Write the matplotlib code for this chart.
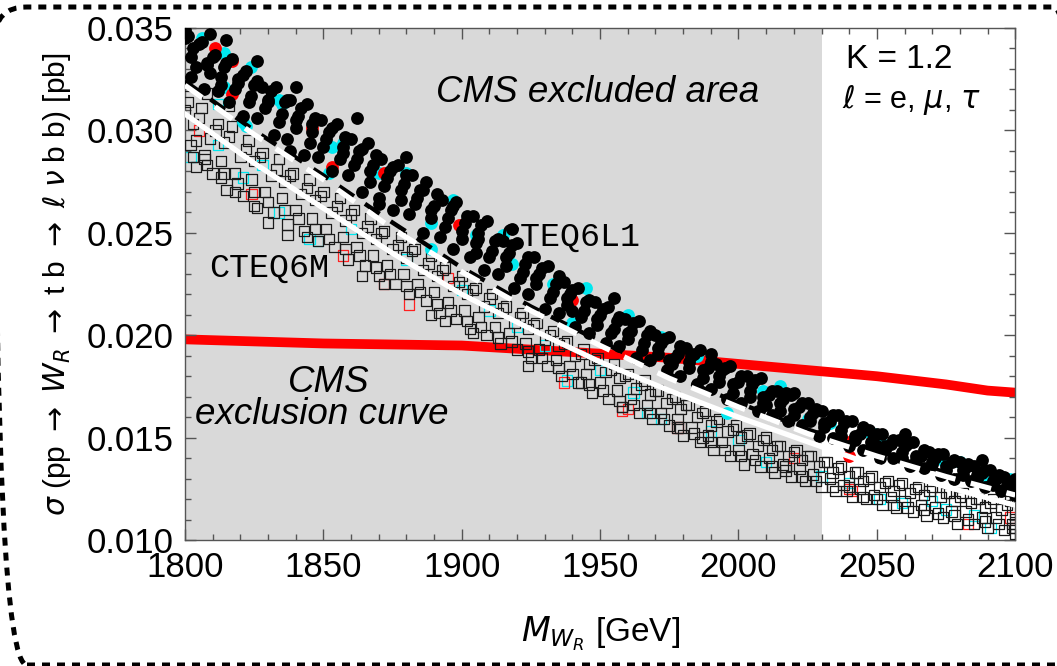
import matplotlib.pyplot as plt
import matplotlib.patches as patches
from matplotlib.ticker import MultipleLocator, FormatStrFormatter

plt.rcParams['font.family'] = ['Liberation Sans', 'DejaVu Sans']
plt.rcParams['mathtext.fontset'] = 'dejavusans'

# CMS exclusion curve (red)
cms_mass = [1800, 1825, 1850, 1875, 1900, 1925, 1950, 1975, 2000, 2025, 2050, 2075, 2090, 2100]
cms_xsec = [0.0198, 0.0197, 0.0196, 0.01955, 0.0195, 0.0193, 0.0191, 0.0189, 0.0186, 0.0183,
            0.0180, 0.0176, 0.0173, 0.0172]

# smooth theory curves
curve_mass = [1800, 1825, 1850, 1875, 1900, 1925, 1950, 1975, 2000, 2025, 2050, 2075, 2100]
solid_white = [0.0308, 0.0284, 0.0262, 0.0240, 0.0220, 0.0203, 0.0187, 0.0173, 0.0160, 0.0148,
               0.0136, 0.0126, 0.0117]
dash_white = [0.0322, 0.0298, 0.0276, 0.0252, 0.0231, 0.0212, 0.0195, 0.0179, 0.0165, 0.0152,
              0.0141, 0.0131, 0.0122]
dash_black = [0.0324, 0.0300, 0.0278, 0.0255, 0.0233, 0.0214, 0.0197, 0.0181, 0.0167, 0.0154,
              0.0143, 0.0133, 0.0124]

# CTEQ6L1 scan points (filled circles)
l1_mass = [
    1801, 1806, 1811, 1817, 1822, 1828, 1833, 1838, 1844, 1849, 1855, 1860, 1866, 1871, 1877, 1882,
    1887, 1893, 1898, 1904, 1909, 1915, 1920, 1926, 1931, 1937, 1942, 1948, 1953, 1959, 1964, 1970,
    1975, 1981, 1986, 1992, 1997, 2003, 2008, 2014, 2019, 2025, 2030, 2036, 2041, 2047, 2052, 2058,
    2063, 2069, 2074, 2080, 2085, 2091, 2096,
    1803, 1808, 1814, 1819, 1825, 1830, 1836, 1841, 1846, 1852, 1857, 1863, 1868, 1874, 1879, 1885,
    1890, 1896, 1901, 1906, 1912, 1917, 1923, 1928, 1934, 1939, 1945, 1950, 1956, 1961, 1967, 1972,
    1978, 1983, 1989, 1994, 2000, 2005, 2011, 2016, 2022, 2027, 2033, 2038, 2044, 2049, 2055, 2060,
    2066, 2071, 2077, 2082, 2088, 2093, 2099,
    1804, 1809, 1813, 1818, 1823, 1829, 1834, 1840, 1845, 1850, 1856, 1861, 1867, 1872, 1878, 1883,
    1889, 1894, 1900, 1905, 1910, 1916, 1921, 1927, 1932, 1938, 1943, 1949, 1954, 1960, 1965, 1971,
    1976, 1982, 1987, 1993, 1998, 2004, 2009, 2015, 2020, 2026, 2031, 2037, 2042, 2048, 2053, 2059,
    2064, 2070, 2075, 2081, 2086, 2092, 2098,
    1802, 1807, 1812, 1816, 1821, 1826, 1832, 1837, 1843, 1848, 1853, 1859, 1864, 1870, 1875, 1881,
    1886, 1892, 1897, 1903, 1908, 1913, 1919, 1924, 1930, 1935, 1941, 1946, 1952, 1957, 1963, 1968,
    1974, 1979, 1985, 1990, 1996, 2001, 2007, 2012, 2018, 2023, 2029, 2034, 2040, 2045, 2051, 2056,
    2062, 2067, 2073, 2078, 2084, 2089, 2095, 2100,
    1800, 1805, 1810, 1815, 1821, 1826, 1831, 1837, 1842, 1847, 1853, 1858, 1864, 1869, 1875, 1880,
    1886, 1891, 1897, 1902, 1907, 1913, 1918, 1924, 1929, 1935, 1940, 1946, 1951, 1957, 1962, 1968,
    1973, 1979, 1984, 1990, 1995, 2001, 2006, 2012, 2017, 2023, 2028, 2034, 2039, 2045, 2050, 2056,
    2061, 2067, 2072, 2078, 2083, 2089, 2094, 2100,
    1802, 1808, 1813, 1819, 1824, 1830, 1835, 1840, 1846, 1851, 1857, 1862, 1867, 1873, 1878, 1884,
    1889, 1895, 1900, 1906, 1911, 1916, 1922, 1927, 1933, 1938, 1944, 1949, 1955, 1960, 1966, 1971,
    1977, 1982, 1987, 1993, 1998, 2004, 2009, 2015, 2020, 2026, 2031, 2037, 2042, 2048, 2053, 2059,
    2064, 2070, 2075, 2081, 2086, 2092, 2097,
    1800, 1809, 1815, 1826, 1840, 1862, 1880, 1918, 1955, 1990, 2020, 2060, 2088, 1838, 1870, 1905,
    1940, 1975, 2010, 2050,
]
l1_xsec = [
    .0346, .0343, .0337, .0335, .0329, .0321, .0321, .0315, .0313, .0305, .0303, .0296, .0294, .0286,
    .0283, .0278, .0275, .0266, .0265, .0258, .0256, .0246, .0245, .0238, .0234, .0226, .0223, .0216,
    .0214, .0208, .0207, .0200, .0199, .0194, .0193, .0186, .0185, .0180, .0179, .0173, .0171, .0167,
    .0163, .0161, .0158, .0154, .0152, .0149, .0148, .0143, .0142, .0138, .0136, .0134, .0131,
    .0340, .0333, .0331, .0325, .0322, .0315, .0314, .0307, .0303, .0299, .0292, .0290, .0283, .0280,
    .0274, .0271, .0263, .0261, .0255, .0250, .0246, .0240, .0235, .0230, .0225, .0220, .0216, .0210,
    .0207, .0202, .0200, .0196, .0191, .0190, .0184, .0183, .0177, .0176, .0171, .0169, .0165, .0162,
    .0158, .0157, .0152, .0151, .0147, .0146, .0141, .0140, .0138, .0135, .0133, .0130, .0127,
    .0331, .0328, .0322, .0320, .0314, .0311, .0304, .0301, .0294, .0292, .0286, .0283, .0275, .0273,
    .0266, .0264, .0257, .0253, .0247, .0245, .0238, .0234, .0228, .0225, .0218, .0215, .0209, .0205,
    .0201, .0198, .0193, .0191, .0186, .0184, .0179, .0177, .0172, .0170, .0167, .0163, .0161, .0158,
    .0155, .0151, .0149, .0145, .0144, .0140, .0139, .0137, .0134, .0132, .0130, .0127, .0125,
    .0326, .0320, .0319, .0314, .0307, .0306, .0298, .0296, .0288, .0287, .0280, .0278, .0270, .0267,
    .0261, .0259, .0250, .0248, .0242, .0238, .0232, .0230, .0223, .0220, .0213, .0211, .0204, .0201,
    .0196, .0195, .0189, .0188, .0183, .0180, .0176, .0174, .0169, .0167, .0163, .0161, .0158, .0156,
    .0151, .0150, .0146, .0144, .0140, .0140, .0136, .0135, .0132, .0130, .0129, .0126, .0124, .0122,
    .0345, .0342, .0336, .0333, .0327, .0324, .0319, .0315, .0311, .0306, .0301, .0297, .0291, .0288,
    .0282, .0278, .0271, .0269, .0263, .0258, .0254, .0247, .0244, .0238, .0233, .0229, .0222, .0217,
    .0213, .0209, .0206, .0202, .0198, .0195, .0191, .0187, .0184, .0180, .0178, .0173, .0172, .0167,
    .0164, .0161, .0158, .0155, .0152, .0149, .0147, .0144, .0142, .0139, .0137, .0134, .0132, .0130,
    .0336, .0332, .0326, .0323, .0317, .0314, .0308, .0305, .0299, .0296, .0289, .0286, .0280, .0277,
    .0271, .0267, .0261, .0257, .0251, .0247, .0241, .0238, .0231, .0228, .0221, .0218, .0212, .0208,
    .0203, .0201, .0196, .0194, .0189, .0187, .0183, .0180, .0176, .0173, .0170, .0167, .0164, .0160,
    .0157, .0154, .0151, .0148, .0146, .0143, .0141, .0138, .0136, .0134, .0132, .0129, .0127,
    .0349, .0347, .0344, .0334, .0321, .0306, .0287, .0252, .0218, .0191, .0172, .0152, .0139, .0290,
    .0264, .0240, .0212, .0188, .0166, .0146,
]
l1_cyan_mass = [1814, 1814, 1824, 1834, 1822, 1853, 1852, 1835, 1821, 1857, 1870, 1889, 1905,
                1918, 1933, 1940, 1889, 1972, 2009, 1996, 2025, 2049, 2033, 2048, 2074, 2052,
                2090, 1945, 1960, 1985, 2015, 2060, 2080, 2098, 1880, 1897, 1915, 1806]
l1_cyan_xsec = [.0338, .0321, .0331, .0315, .0302, .0292, .0279, .0313, .0304, .0294, .0279, .0255,
                .0249, .0235, .0225, .0206, .0242, .0199, .0173, .0162, .0159, .0152, .0157, .0152,
                .0139, .0147, .0129, .0223, .0210, .0190, .0175, .0149, .0138, .0130, .0279, .0266,
                .0249, .0345]
l1_red_mass = [1872, 1817, 1846, 1817, 1853, 1899, 1940, 1979, 2040, 2098, 2040, 1811]
l1_red_xsec = [.0279, .0334, .0301, .0318, .0282, .0254, .0217, .0191, .0148, .0128, .0141, .0340]

# CTEQ6M scan points (open squares)
m_mass = [
    1801, 1806, 1812, 1817, 1823, 1828, 1834, 1839, 1845, 1850, 1856, 1861, 1867, 1872, 1878, 1883,
    1889, 1894, 1900, 1905, 1911, 1916, 1922, 1927, 1933, 1938, 1944, 1949, 1955, 1960, 1966, 1971,
    1977, 1982, 1988, 1993, 1999, 2004, 2010, 2015, 2021, 2026, 2032, 2037, 2043, 2048, 2054, 2059,
    2065, 2070, 2076, 2081, 2087, 2092, 2098,
    1803, 1809, 1814, 1820, 1825, 1831, 1836, 1842, 1847, 1853, 1858, 1864, 1869, 1875, 1880, 1886,
    1891, 1897, 1902, 1908, 1913, 1919, 1924, 1930, 1935, 1941, 1946, 1952, 1957, 1963, 1968, 1974,
    1979, 1985, 1990, 1996, 2001, 2007, 2012, 2018, 2023, 2029, 2034, 2040, 2045, 2051, 2056, 2062,
    2067, 2073, 2078, 2084, 2089, 2095, 2100,
    1802, 1807, 1813, 1818, 1824, 1829, 1835, 1840, 1846, 1851, 1857, 1862, 1868, 1873, 1879, 1884,
    1890, 1895, 1901, 1906, 1912, 1917, 1923, 1928, 1934, 1939, 1945, 1950, 1956, 1961, 1967, 1972,
    1978, 1983, 1989, 1994, 2000, 2005, 2011, 2016, 2022, 2027, 2033, 2038, 2044, 2049, 2055, 2060,
    2066, 2071, 2077, 2082, 2088, 2093, 2099,
    1804, 1810, 1815, 1821, 1826, 1832, 1837, 1843, 1848, 1854, 1859, 1865, 1870, 1876, 1881, 1887,
    1892, 1898, 1903, 1909, 1914, 1920, 1925, 1931, 1936, 1942, 1947, 1953, 1958, 1964, 1969, 1975,
    1980, 1986, 1991, 1997, 2002, 2008, 2013, 2019, 2024, 2030, 2035, 2041, 2046, 2052, 2057, 2063,
    2068, 2074, 2079, 2085, 2090, 2096, 2100,
    1800, 1805, 1811, 1816, 1822, 1827, 1833, 1838, 1844, 1849, 1855, 1860, 1866, 1871, 1877, 1882,
    1888, 1893, 1899, 1904, 1910, 1915, 1921, 1926, 1932, 1937, 1943, 1948, 1954, 1959, 1965, 1970,
    1976, 1981, 1987, 1992, 1998, 2003, 2009, 2014, 2020, 2025, 2031, 2036, 2042, 2047, 2053, 2058,
    2064, 2069, 2075, 2080, 2086, 2091, 2097,
    1803, 1808, 1814, 1819, 1825, 1830, 1836, 1841, 1847, 1852, 1858, 1863, 1869, 1874, 1880, 1885,
    1891, 1896, 1902, 1907, 1913, 1918, 1924, 1929, 1935, 1940, 1946, 1951, 1957, 1962, 1968, 1973,
    1979, 1984, 1990, 1995, 2001, 2006, 2012, 2017, 2023, 2028, 2034, 2039, 2045, 2050, 2056, 2061,
    2067, 2072, 2078, 2083, 2089, 2094, 2099,
    1804, 1807, 1818, 1825, 1830, 1837, 1844, 1813, 1864, 1872, 1889, 1904, 1894, 1924, 1943, 1958,
    1978, 1987, 2017, 2040, 1800, 1808, 1816, 2100, 2100, 2100,
]
m_xsec = [
    .0314, .0311, .0303, .0302, .0295, .0289, .0286, .0279, .0276, .0270, .0267, .0261, .0257, .0251,
    .0248, .0242, .0239, .0233, .0229, .0223, .0220, .0214, .0211, .0206, .0202, .0197, .0193, .0189,
    .0186, .0181, .0178, .0173, .0170, .0166, .0163, .0159, .0156, .0152, .0150, .0146, .0144, .0141,
    .0138, .0136, .0133, .0131, .0129, .0128, .0126, .0126, .0123, .0123, .0120, .0120, .0119,
    .0303, .0296, .0294, .0287, .0285, .0278, .0275, .0269, .0266, .0260, .0256, .0250, .0247, .0242,
    .0238, .0232, .0229, .0224, .0220, .0214, .0211, .0206, .0203, .0198, .0195, .0190, .0186, .0182,
    .0179, .0174, .0171, .0167, .0164, .0160, .0156, .0153, .0150, .0146, .0144, .0141, .0139, .0136,
    .0133, .0131, .0129, .0126, .0124, .0123, .0122, .0121, .0119, .0118, .0116, .0115, .0114,
    .0293, .0288, .0285, .0279, .0276, .0270, .0267, .0261, .0257, .0252, .0248, .0243, .0239, .0234,
    .0230, .0225, .0221, .0216, .0212, .0209, .0204, .0201, .0196, .0193, .0188, .0185, .0181, .0177,
    .0173, .0169, .0166, .0162, .0159, .0155, .0151, .0148, .0144, .0142, .0140, .0137, .0135, .0132,
    .0130, .0127, .0125, .0122, .0121, .0119, .0117, .0116, .0114, .0114, .0111, .0111, .0108,
    .0282, .0279, .0271, .0268, .0262, .0260, .0254, .0251, .0246, .0243, .0237, .0234, .0229, .0225,
    .0220, .0217, .0211, .0208, .0203, .0200, .0196, .0193, .0189, .0185, .0180, .0177, .0172, .0169,
    .0165, .0162, .0159, .0156, .0151, .0148, .0144, .0141, .0137, .0136, .0133, .0131, .0129, .0126,
    .0124, .0121, .0120, .0117, .0116, .0114, .0112, .0111, .0108, .0108, .0106, .0105, .0103,
    .0310, .0306, .0300, .0297, .0291, .0287, .0281, .0278, .0272, .0268, .0263, .0259, .0253, .0250,
    .0244, .0241, .0235, .0232, .0226, .0222, .0218, .0213, .0209, .0205, .0200, .0196, .0191, .0188,
    .0183, .0180, .0176, .0173, .0169, .0166, .0162, .0158, .0154, .0151, .0149, .0146, .0143, .0141,
    .0138, .0135, .0133, .0130, .0128, .0127, .0125, .0124, .0123, .0121, .0120, .0118, .0117,
    .0287, .0283, .0279, .0274, .0270, .0265, .0261, .0257, .0252, .0247, .0242, .0239, .0233, .0230,
    .0224, .0221, .0215, .0212, .0207, .0204, .0199, .0197, .0192, .0189, .0184, .0181, .0176, .0173,
    .0168, .0166, .0162, .0159, .0155, .0152, .0148, .0144, .0141, .0139, .0136, .0134, .0131, .0129,
    .0126, .0124, .0121, .0120, .0117, .0116, .0115, .0113, .0112, .0110, .0109, .0108, .0106,
    .0295, .0286, .0270, .0263, .0255, .0249, .0248, .0277, .0229, .0225, .0210, .0201, .0207, .0185,
    .0177, .0165, .0155, .0150, .0136, .0126, .0322, .0318, .0312, .0121, .0110, .0106,
]
m_cyan_mass = [1802, 1812, 1834, 1845, 1848, 1821, 1812, 1938, 1967, 1972, 2010, 2051, 2059, 2091,
               2075, 1880, 1900, 1920, 1950, 1990, 2030, 2070, 1860, 1828, 1910, 1930, 1962, 2000,
               2040, 2085]
m_cyan_xsec = [.0287, .0293, .0260, .0247, .0246, .0277, .0313, .0178, .0162, .0159, .0138, .0120,
               .0118, .0106, .0115, .0237, .0222, .0204, .0183, .0153, .0131, .0119, .0252, .0283,
               .0212, .0195, .0172, .0149, .0128, .0112]
m_red_mass = [1824, 1872, 1881, 1857, 1960, 1937, 1958, 1978, 2040, 2041, 2083, 2098, 1805, 1895, 2020]
m_red_xsec = [.0269, .0225, .0215, .0239, .0164, .0177, .0163, .0155, .0125, .0124, .0108, .0111,
              .0300, .0228, .0140]

excluded_limit = 2030

fig = plt.figure(figsize=(10.57, 6.66), dpi=100)
ax = fig.add_axes([0.175, 0.189, 0.7855, 0.769])

ax.axvspan(1800, excluded_limit, color='#d9d9d9', lw=0, zorder=0)
ax.plot(cms_mass, cms_xsec, color='#ff0000', lw=7, solid_capstyle='butt', zorder=1)

# squares
ax.scatter(m_cyan_mass, m_cyan_xsec, s=56, marker='s', facecolors='none', edgecolors='#00e8f0',
           linewidths=0.9, zorder=2)
ax.scatter(m_red_mass, m_red_xsec, s=56, marker='s', facecolors='none', edgecolors='#ff2020',
           linewidths=0.9, zorder=2)
ax.scatter(m_mass, m_xsec, s=56, marker='s', facecolors='none', edgecolors='#1a1a1a',
           linewidths=0.9, zorder=3)

# circles
ax.scatter(l1_cyan_mass, l1_cyan_xsec, s=85, color='#00e8f0', lw=0, zorder=4)
ax.scatter(l1_red_mass, l1_red_xsec, s=85, color='#ff0000', lw=0, zorder=4)
ax.scatter(l1_mass, l1_xsec, s=85, color='black', lw=0, zorder=5)

ax.plot(curve_mass, solid_white, color='white', lw=3.8, zorder=6)
ax.plot(curve_mass, dash_black, color='black', lw=3.2, dashes=(4, 3), dash_capstyle='butt',
        zorder=7)
ax.plot(curve_mass, dash_white, color='white', lw=3.8, dashes=(4, 3), dash_capstyle='butt',
        zorder=8)

ax.set_xlim(1800, 2100)
ax.set_ylim(0.010, 0.035)
ax.xaxis.set_major_locator(MultipleLocator(50))
ax.xaxis.set_minor_locator(MultipleLocator(10))
ax.yaxis.set_major_locator(MultipleLocator(0.005))
ax.yaxis.set_minor_locator(MultipleLocator(0.001))
ax.yaxis.set_major_formatter(FormatStrFormatter('%.3f'))
ax.tick_params(which='both', direction='in', top=True, right=True, color='#555555', width=1)
ax.tick_params(which='major', length=8, labelsize=25, pad=8)
ax.tick_params(which='minor', length=4)
for sp in ax.spines.values():
    sp.set_color('#555555')
    sp.set_linewidth(1)

ax.set_ylabel(r'$\sigma$ (pp $\rightarrow$ $W_R$ $\rightarrow$ t b $\rightarrow$ $\ell$ $\nu$ b b) [pb]',
              fontsize=21.5, labelpad=10)
ax.set_xlabel(r'$M_{W_R}$ [GeV]', fontsize=24, labelpad=22)

ax.text(1949, 0.03183, 'CMS excluded area', fontsize=26.5, style='italic', ha='center',
        va='center', zorder=9)
ax.text(1852, 0.01767, 'CMS', fontsize=26.5, style='italic', ha='center', va='center', zorder=9)
ax.text(1849.5, 0.01611, 'exclusion curve', fontsize=26.5, style='italic', ha='center',
        va='center', zorder=9)
ax.text(2058, 0.03344, 'K = 1.2', fontsize=24, ha='center', va='center', zorder=9)
ax.text(2062.5, 0.03148, r'$\ell$ = e, $\mu$, $\tau$', fontsize=22, ha='center', va='center',
        zorder=9)
ax.text(1939, 0.02480, 'CTEQ6L1', fontsize=24, family='Liberation Mono', ha='center',
        va='center', zorder=9)
ax.text(1830.5, 0.02328, 'CTEQ6M', fontsize=24, family='Liberation Mono', ha='center',
        va='center', zorder=9)

# dashed rounded frame around the whole figure
frame = patches.FancyBboxPatch((-0.05, 0.01), 10.9, 6.58,
                               boxstyle='round,pad=0,rounding_size=0.32',
                               transform=fig.dpi_scale_trans, fill=False, edgecolor='black',
                               lw=3.6, linestyle=(0, (1.6, 1.4)), clip_on=False)
fig.patches.append(frame)

fig.savefig('out.png', dpi=100)
